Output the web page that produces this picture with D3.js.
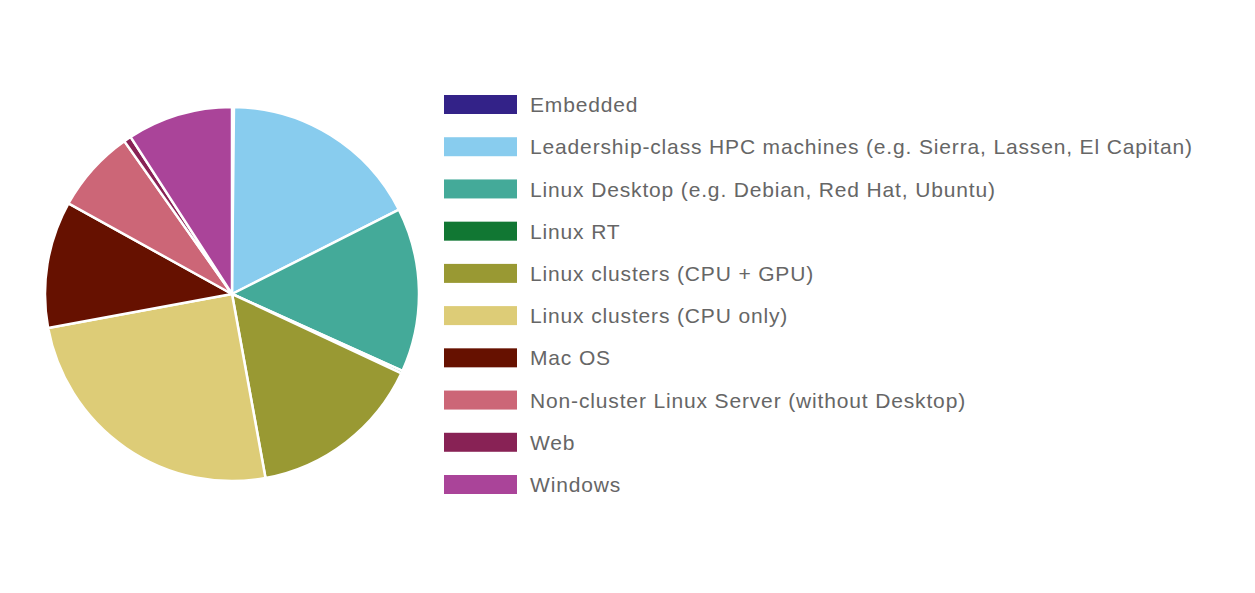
<!DOCTYPE html>
<html><head><meta charset="utf-8">
<script src="https://cdn.jsdelivr.net/npm/d3@7"></script>
<style>html,body{margin:0;padding:0;background:#fff;}</style>
</head><body>
<svg id="chart" width="1255" height="593"></svg>
<script>
const categories = ["Embedded","Leadership-class HPC machines (e.g. Sierra, Lassen, El Capitan)","Linux Desktop (e.g. Debian, Red Hat, Ubuntu)","Linux RT","Linux clusters (CPU + GPU)","Linux clusters (CPU only)","Mac OS","Non-cluster Linux Server (without Desktop)","Web","Windows"];
const values = [0.6, 62.5, 51, 0.8, 54.5, 89.7, 39.4, 25.8, 2.3, 32.8];
const colors = ["#332288","#88CCEE","#44AA99","#117733","#999933","#DDCC77","#661100","#CC6677","#882255","#AA4499"];

const svg = d3.select("#chart");
const cx = 232, cy = 294, r = 187;
const pie = d3.pie().sort(null).value(d => d.v);
const arc = d3.arc().innerRadius(0).outerRadius(r);
const data = categories.map((c,i)=>({c, v: values[i], col: colors[i]}));
const g = svg.append("g").attr("transform", `translate(${cx},${cy})`);
g.selectAll("path").data(pie(data)).join("path")
  .attr("d", arc).attr("fill", d => d.data.col)
  .attr("stroke", "#fff").attr("stroke-width", 2.5).attr("stroke-linejoin","round");

const ly = d3.scalePoint().domain(categories).range([104.5, 484.5]);
const lg = svg.append("g");
const items = lg.selectAll("g").data(data).join("g")
  .attr("transform", d => `translate(444,${ly(d.c)})`);
items.append("rect").attr("x",0).attr("y",-9.5).attr("width",73).attr("height",19)
  .attr("fill", d => d.col);
items.append("text").attr("x",86).attr("y",0).attr("dy","0.36em")
  .attr("font-family","'Liberation Sans', Arial, Helvetica, sans-serif")
  .attr("font-size",21).attr("letter-spacing","0.85px").attr("fill","#666").text(d => d.c);
</script>
</body></html>
